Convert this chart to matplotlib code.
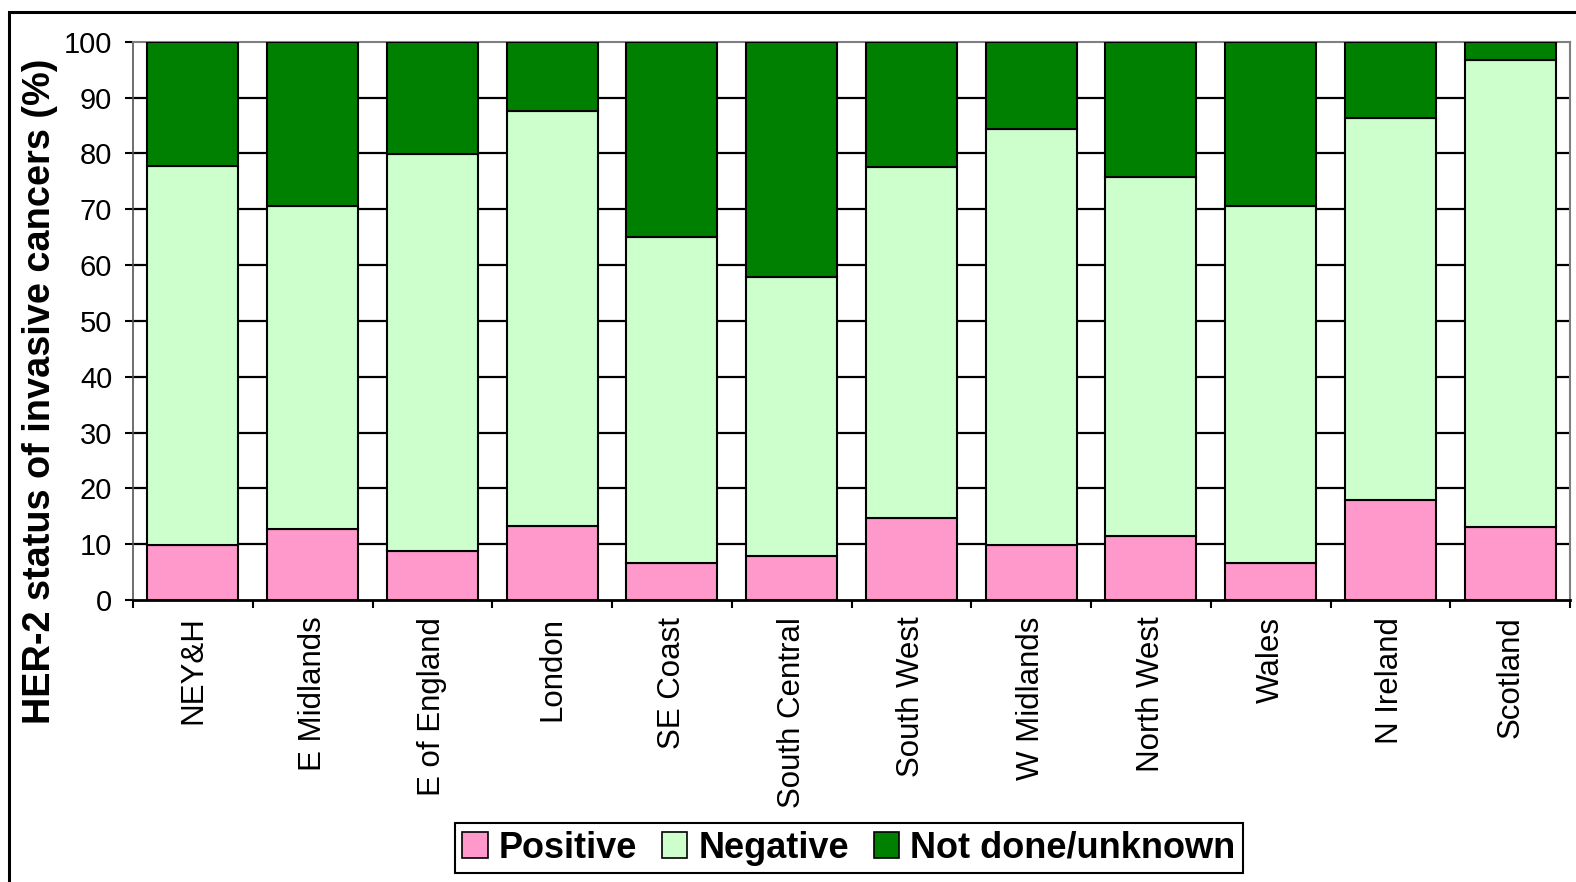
import matplotlib

matplotlib.use("Agg")
import matplotlib.pyplot as plt  # noqa: E402
from matplotlib.patches import Patch, Rectangle  # noqa: E402

plt.rcParams["font.family"] = ["Liberation Sans", "DejaVu Sans"]

regions = ["NEY&H", "E Midlands", "E of England", "London", "SE Coast",
           "South Central", "South West", "W Midlands", "North West",
           "Wales", "N Ireland", "Scotland"]
positive = [9.8, 12.7, 8.8, 13.2, 6.7, 7.8, 14.7, 9.9, 11.5, 6.7, 18.0, 13.1]
negative = [68.0, 57.9, 71.1, 74.3, 58.4, 50.0, 62.8, 74.4, 64.3, 63.8, 68.3, 83.7]
not_done = [22.2, 29.4, 20.1, 12.5, 34.9, 42.2, 22.5, 15.7, 24.2, 29.5, 13.7, 3.2]
yticks = list(range(0, 101, 10))

PINK = "#FF99CC"
LIGHT = "#CCFFCC"
DARK = "#008000"

W, H = 1576, 882
fig = plt.figure(figsize=(W / 100, H / 100), dpi=100)
ax = fig.add_axes([133 / W, 1 - 600 / H, (1570 - 133) / W, (600 - 41.7) / H])

x = list(range(len(regions)))
bottom2 = [p + n for p, n in zip(positive, negative)]
kw = dict(width=0.76, edgecolor="black", linewidth=1.5, zorder=3)
ax.bar(x, positive, color=PINK, **kw)
ax.bar(x, negative, bottom=positive, color=LIGHT, **kw)
ax.bar(x, not_done, bottom=bottom2, color=DARK, **kw)

# black gridlines behind bars
for v in yticks[1:-1]:
    ax.axhline(v, color="black", lw=1.6, zorder=1)

ax.set_xlim(-0.5, len(regions) - 0.5)
ax.set_ylim(0, 100)
ax.set_yticks(yticks)
ax.tick_params(axis="y", labelsize=21, length=6, width=1.5, direction="out", pad=9)

ax.set_xticks(x)
ax.set_xticklabels(regions, rotation=90, fontsize=22.5)
ax.tick_params(axis="x", length=0, pad=12)
ax.set_xticks([i + 0.5 for i in range(-1, len(regions))], minor=True)
ax.tick_params(axis="x", which="minor", length=6, width=1.5, direction="out")

ax.spines["bottom"].set_linewidth(2)
ax.spines["left"].set_color("#555555")
ax.spines["left"].set_linewidth(1.2)
for s in ("top", "right"):
    ax.spines[s].set_color("#808080")
    ax.spines[s].set_linewidth(1.5)

fig.text(40 / W, 1 - 391 / H, "HER-2 status of invasive cancers (%)",
         rotation=90, ha="center", va="center", fontsize=27.3, fontweight="bold")

# outer chart frame (cut off at right and bottom)
fig.patches.append(Rectangle((9 / W, -0.1), 1.2, 1.1 - 12 / H, transform=fig.transFigure,
                             fill=False, edgecolor="black", lw=2.2, clip_on=False))

handles = [Patch(facecolor=PINK, edgecolor="black", lw=1.2, label="Positive"),
           Patch(facecolor=LIGHT, edgecolor="black", lw=1.2, label="Negative"),
           Patch(facecolor=DARK, edgecolor="black", lw=1.2, label="Not done/unknown")]
leg = fig.legend(handles=handles, loc="center", bbox_to_anchor=(849 / W, 1 - 848 / H),
                 ncol=3, prop={"weight": "bold", "size": 26},
                 fancybox=False, edgecolor="black", framealpha=1,
                 handlelength=0.7, handleheight=0.7, handletextpad=0.3,
                 columnspacing=0.7, borderpad=0.2, borderaxespad=0)
leg.get_frame().set_linewidth(1.5)

fig.savefig("out.png", dpi=100)
